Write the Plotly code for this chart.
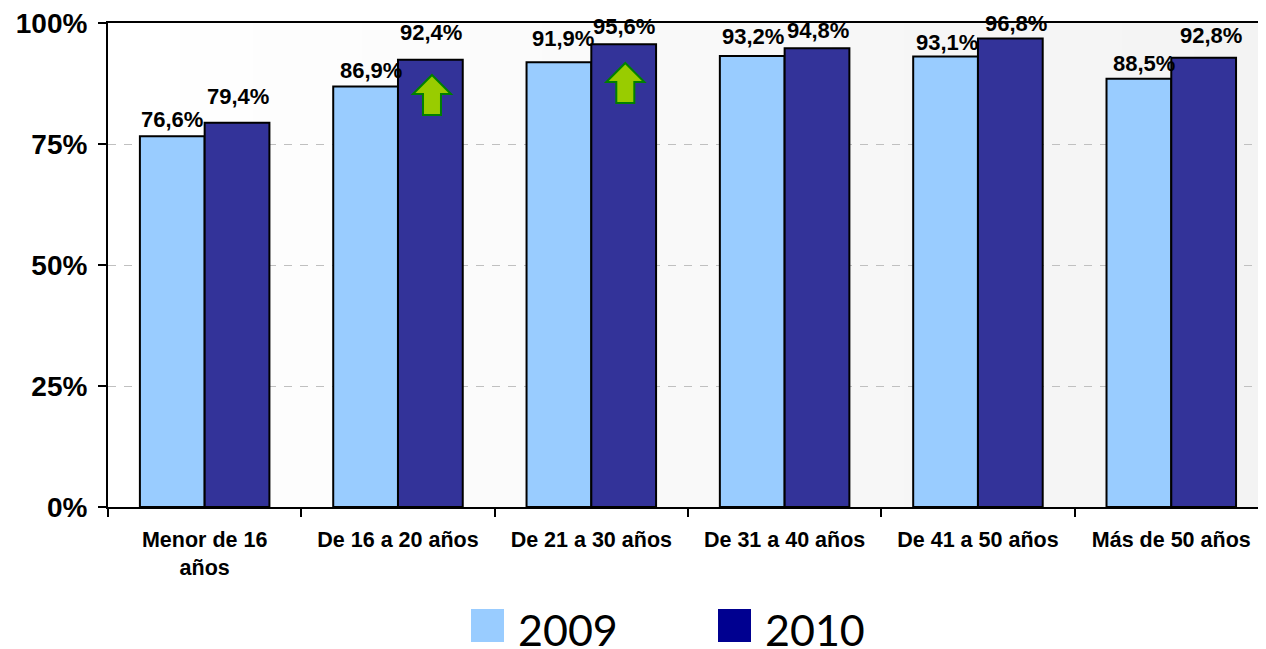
import plotly.graph_objects as go

categories = ["Menor de 16<br>años", "De 16 a 20 años", "De 21 a 30 años",
              "De 31 a 40 años", "De 41 a 50 años", "Más de 50 años"]
values_2009 = [76.6, 86.9, 91.9, 93.2, 93.1, 88.5]
values_2010 = [79.4, 92.4, 95.6, 94.8, 96.8, 92.8]
y_ticks = [0, 25, 50, 75, 100]
y_tick_labels = ["0%", "25%", "50%", "75%", "100%"]

# label lift above each bar top and sideways nudge, px
lift_2009 = [17, 16, 24, 19, 14, 15]
lift_2010 = [26, 27, 18, 18, 15, 22]
nudge_2009 = [0, 6, 5, 1, 2, 6]
nudge_2010 = [0, 0, 0, 0, 5, 7]

FONT = "Liberation Sans"
C2009 = "#99CCFF"
C2010 = "#333399"

# the page has an 8px body margin, so the figure starts at (8, 8)
OFF = 8
W, H = 1266 - OFF, 649 - OFF
L, T = 108 - OFF, 23 - OFF
B = 649 - 507
PW, PH = 1158, 484

def px(x):
    return (x - 108) / PW

def py(y):
    return (507 - y) / PH

fig = go.Figure()
fig.add_bar(name="2009", x=categories, y=values_2009, marker=dict(color=C2009, line=dict(color="#000000", width=2)), showlegend=False)
fig.add_bar(name="2010", x=categories, y=values_2010, marker=dict(color=C2010, line=dict(color="#000000", width=2)), showlegend=False)

shapes = []
# soft left-to-right background wash
N = 32
for i in range(N):
    g = round(255 - (255 - 243) * i / (N - 1))
    shapes.append(dict(type="rect", xref="paper", yref="paper", x0=i / N, x1=(i + 1) / N + 0.001, y0=0, y1=1,
                       fillcolor=f"rgb({g},{g},{g})", line=dict(width=0), layer="below"))

# up arrows on the 2nd and 3rd 2010 bars
arrow = "M 34 {a} L 53 {b} L 43 {b} L 43 {c} L 25 {c} L 25 {b} L 15 {b} Z"
for cat, tip in ((categories[1], 52), (categories[2], 40)):
    shapes.append(dict(type="path", xref="x", yref="y", xsizemode="pixel", ysizemode="pixel",
                       xanchor=cat, yanchor=100,
                       path=arrow.format(a=-tip, b=-(tip + 19), c=-(tip + 40)),
                       fillcolor="#99CC00", line=dict(color="#008000", width=2), layer="above"))

# legend keys
annotations = []
for name, col, kx, tx in (("2009", "#99CCFF", 471, 516), ("2010", "#000090", 718, 763)):
    shapes.append(dict(type="rect", xref="paper", yref="paper",
                       x0=px(kx), x1=px(kx + 33), y0=py(642), y1=py(609),
                       fillcolor=col, line=dict(width=0)))
    annotations.append(dict(text=name, xref="paper", yref="paper", x=px(tx), y=py(630),
                            xanchor="left", yanchor="middle", showarrow=False,
                            font=dict(family="Lato", size=43, color="#000000")))

def label(v):
    return f"{v:.1f}".replace(".", ",") + "%"

for cat, v, lift, nudge in zip(categories, values_2009, lift_2009, nudge_2009):
    annotations.append(dict(text=label(v), x=cat, y=v, xshift=-33 + nudge, yshift=lift, showarrow=False, yanchor="middle",
                            font=dict(family=FONT, size=22, color="#000000", weight="bold")))
for cat, v, lift, nudge in zip(categories, values_2010, lift_2010, nudge_2010):
    annotations.append(dict(text=label(v), x=cat, y=v, xshift=33 + nudge, yshift=lift, showarrow=False, yanchor="middle",
                            font=dict(family=FONT, size=22, color="#000000", weight="bold")))

fig.update_layout(
    width=W, height=H, autosize=False,
    margin=dict(l=L, r=0, t=T, b=B),
    paper_bgcolor="#FFFFFF", plot_bgcolor="#FFFFFF",
    barmode="group", bargap=0.33, bargroupgap=0,
    shapes=shapes, annotations=annotations,
    showlegend=False,
    xaxis=dict(type="category", range=[-0.5, 5.49], tickson="boundaries", ticks="outside", ticklen=8, tickwidth=2,
               tickcolor="#000000", showline=True, linecolor="#000000", linewidth=2, mirror=True, showgrid=False,
               ticklabelstandoff=12,
               tickfont=dict(family=FONT, size=21.5, color="#000000", weight="bold")),
    yaxis=dict(range=[0, 100], tickmode="array", tickvals=y_ticks, ticktext=y_tick_labels,
               ticks="outside", ticklen=8, tickwidth=2, ticklabelstandoff=5, ticklabeloverflow="allow",
               tickcolor="#000000", showline=True, linecolor="#000000", linewidth=2, zeroline=False,
               showgrid=True, gridcolor="#C0C0C0", gridwidth=1, griddash="8px,8px",
               tickfont=dict(family=FONT, size=28, color="#000000", weight="bold")),
)

fig.write_html("out.html", config=dict(displayModeBar=False))
